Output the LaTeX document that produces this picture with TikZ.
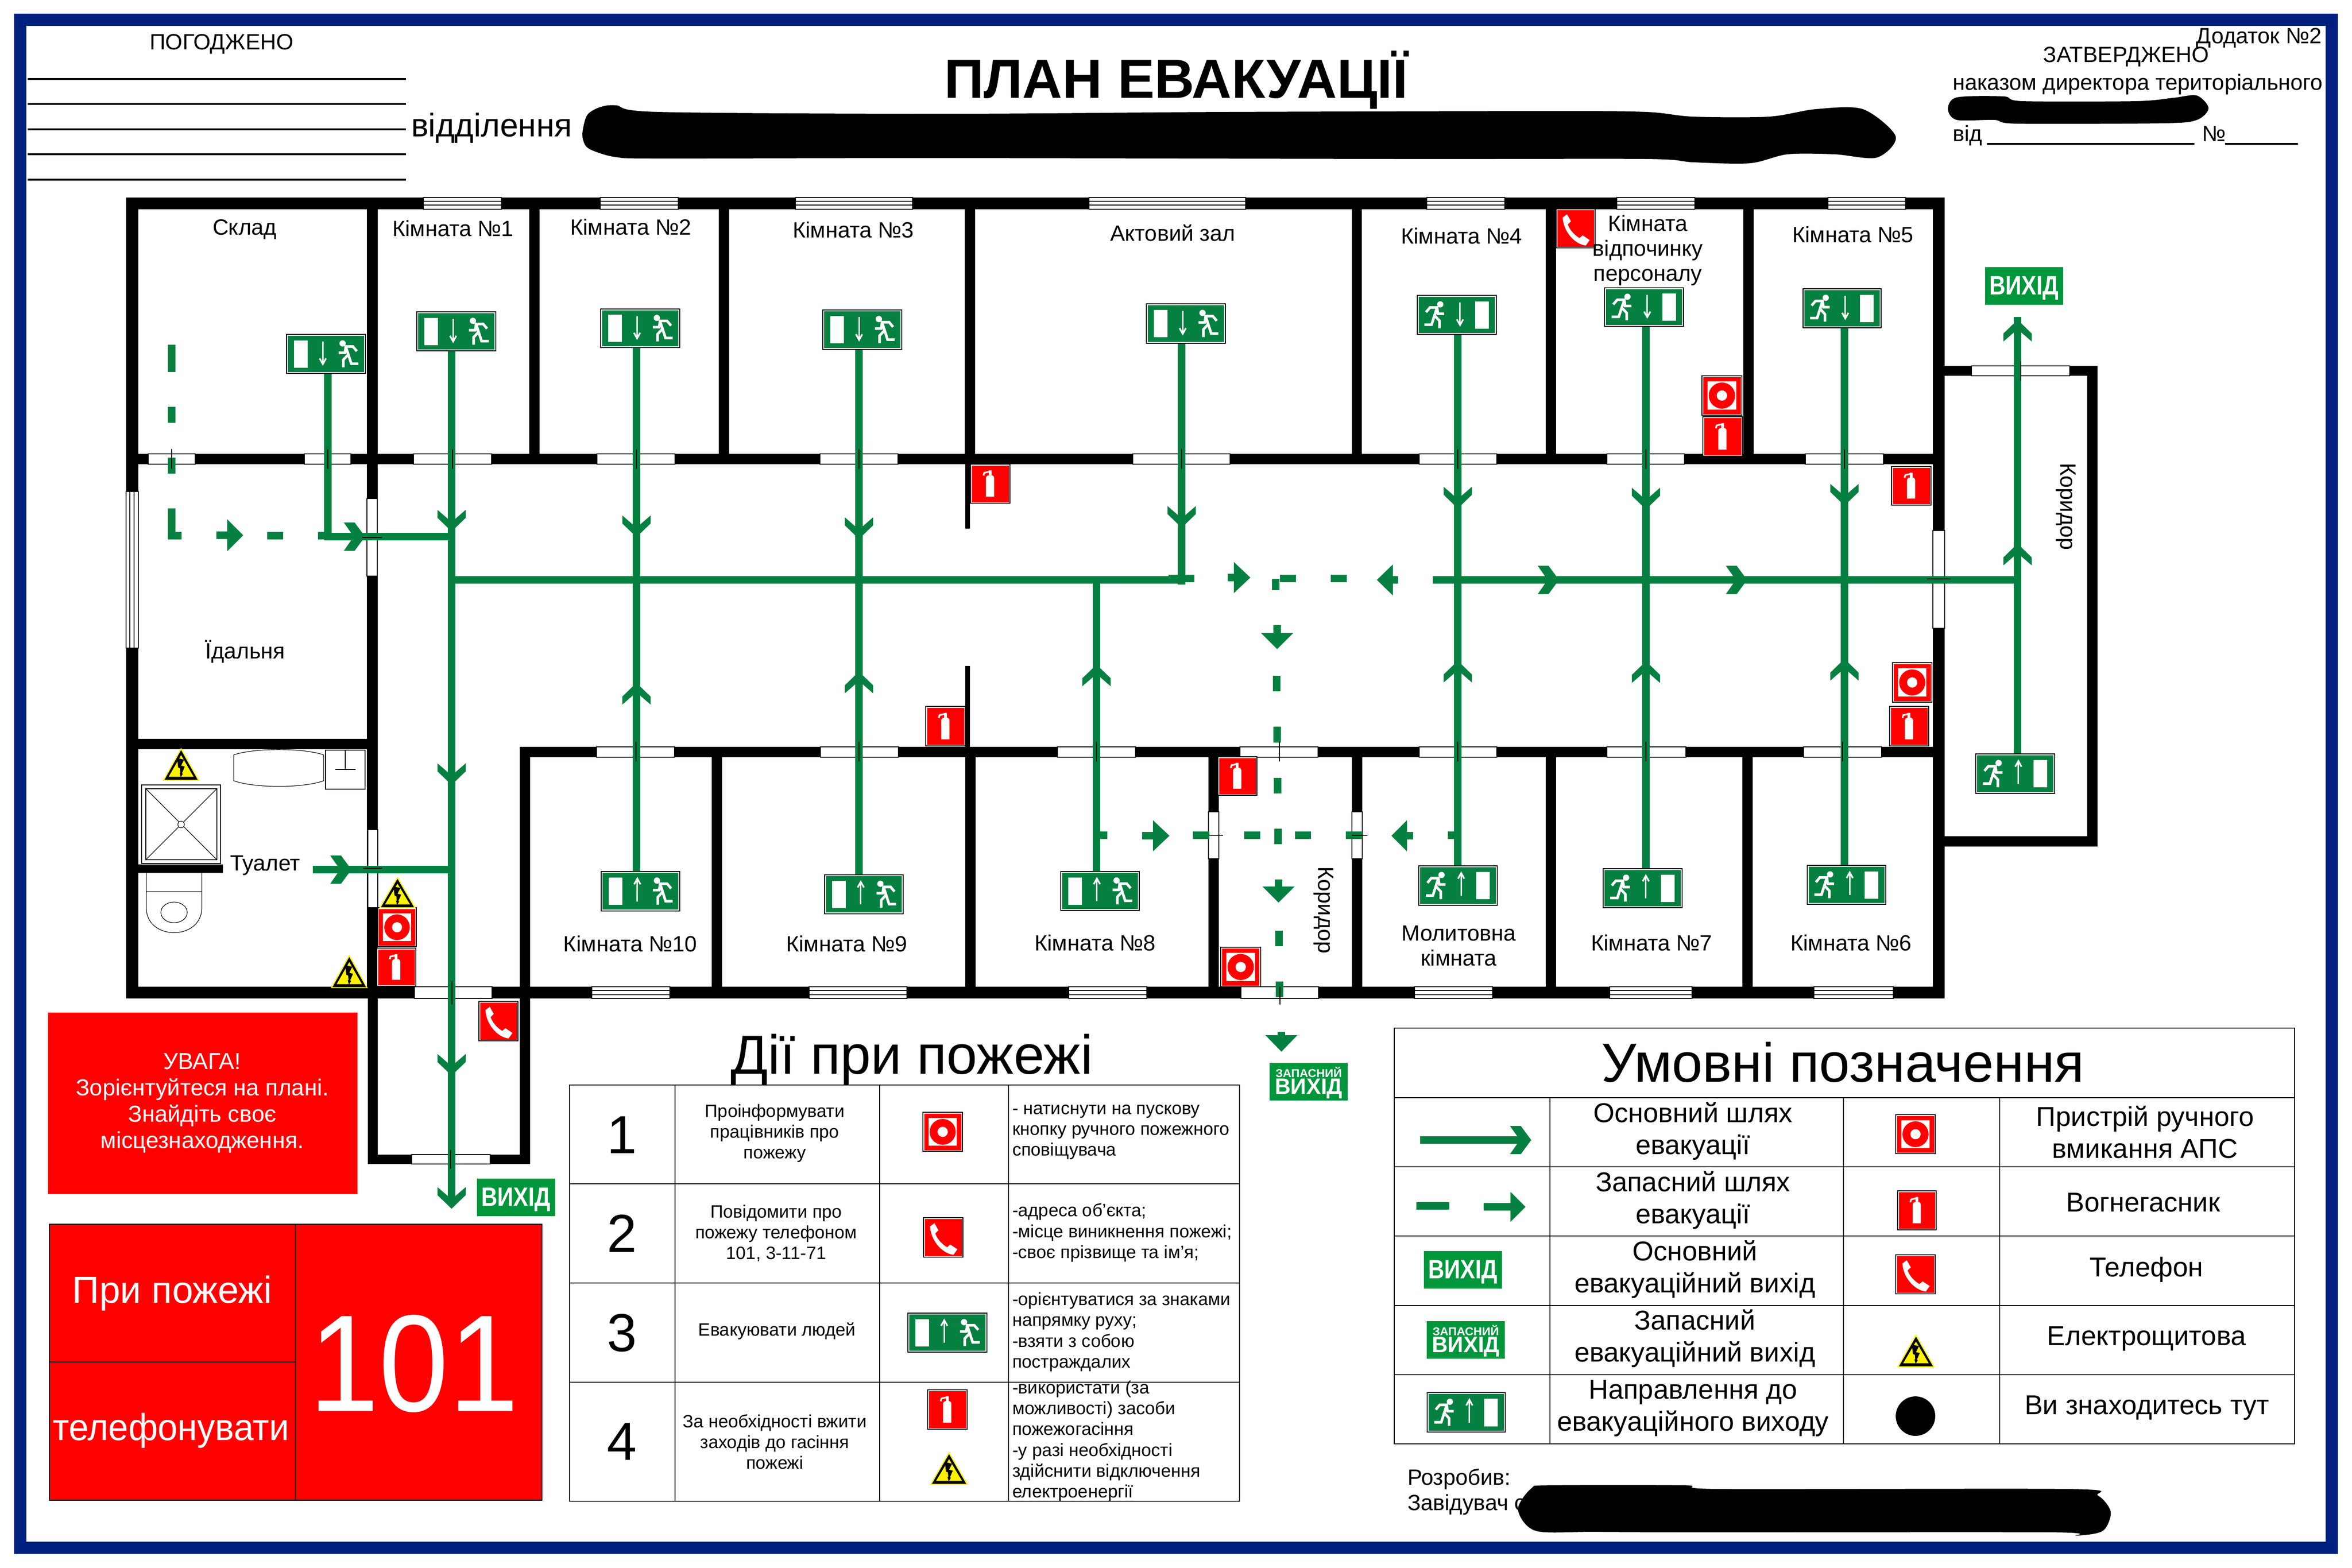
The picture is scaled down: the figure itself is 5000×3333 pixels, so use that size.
\documentclass[tikz,border=0pt]{standalone}
\usepackage{fontspec}
\setmainfont{Liberation Sans}
\definecolor{evacgreen}{HTML}{058040}
\definecolor{exitgreen}{HTML}{00963C}
\definecolor{framblue}{HTML}{00207F}

% signs are drawn in a 100x100 box, swap the x values to mirror them
\newcommand{\signext}[4]{\begin{scope}[shift={(#1,#2)},xscale={(#3-#1)/100},yscale={(#4-#2)/100}]
    \filldraw[signframe] (0,0) rectangle (100,100);
    \fill[red] (3,3) rectangle (97,97);
    \fill[white] (39,83) -- (39,36) .. controls (39,30) and (44,28) .. (50,28) .. controls (56,28) and (60,30) .. (60,36) -- (60,83) -- cycle;
    \fill[white] (46,16) rectangle (53,28);
    \draw[white,line width=0.35pt] (33,29) -- (35,22) -- (52,18);
\end{scope}}
\newcommand{\signalarm}[4]{\begin{scope}[shift={(#1,#2)},xscale={(#3-#1)/100},yscale={(#4-#2)/100}]
    \filldraw[signframe] (0,0) rectangle (100,100);
    \fill[red] (3,3) rectangle (97,97);
    \fill[white] (14,14) rectangle (86,86);
    \fill[red] (50,50) circle (33);
    \fill[white] (50,50) circle (13);
\end{scope}}
\newcommand{\signphone}[4]{\begin{scope}[shift={(#1,#2)},xscale={(#3-#1)/100},yscale={(#4-#2)/100}]
    \filldraw[signframe] (0,0) rectangle (100,100);
    \fill[red] (3,3) rectangle (97,97);
    \fill[white] (17,22) -- (28,14) -- (38,32) -- (30,40) .. controls (35,55) and (48,68) .. (60,75) -- (68,68) -- (86,80) -- (76,94) .. controls (45,90) and (18,55) .. cycle;
\end{scope}}
\newcommand{\signwarn}[4]{\begin{scope}[shift={(#1,#2)},xscale={(#3-#1)/100},yscale={(#4-#2)/100}]
    \fill[yellow] (50,0) -- (100,100) -- (0,100) -- cycle;
    \fill[black] (50,7) -- (95,97) -- (5,97) -- cycle;
    \fill[yellow] (50,22) -- (84,88) -- (16,88) -- cycle;
    \fill[black] (39,31) -- (58,36) -- (50,54) -- (60,57) -- (52,78) -- (55,78) -- (49,90) -- (46,76) -- (48,76) -- (47,62) -- (42,60) -- cycle;
\end{scope}}
\newcommand{\signexit}[6]{\begin{scope}[shift={(#1,#2)},xscale={(#3-#1)/100},yscale={(#4-#2)/100}]
    \filldraw[signframe] (0,0) rectangle (100,100);
    \fill[evacgreen] (2,4) rectangle (98,96);
    \fill[white] (9.5,15) rectangle (27,85);
    \pgfmathsetmacro{\headback}{#6+(#5-#6)*0.25}
    \draw[white,line width=0.3pt] (46,#5) -- (46,#6);
    \draw[white,line width=0.35pt] (42,\headback) -- (46,#6) -- (50,\headback);
    \fill[white] (71,23) circle [x radius=4,y radius=8];
    \draw[white,line width=0.55pt] (66,47) -- (74,47) -- (75,31) -- (84,31) -- (89,43);
    \draw[white,line width=0.55pt] (75,31) -- (79,56) -- (82,75) -- (91,75);
    \draw[white,line width=0.55pt] (78,52) -- (72,65) -- (72,84);
\end{scope}}
\newcommand{\signvyhid}[3]{\fill[exitgreen] ({#2-83},{#3-40}) rectangle ({#2+83},{#3+40});
    \node[inner sep=0pt,white] (#1) at (#2,#3+5) {\resizebox*{14.7pt}{5pt}{\bfseries ВИХІД}};}
\newcommand{\signzap}[3]{\fill[exitgreen] ({#2-83},{#3-40}) rectangle ({#2+83},{#3+40});
    \node[inner sep=0pt,white] (#1a) at (#2,#3-20) {\resizebox*{14.1pt}{2.2pt}{\bfseries ЗАПАСНИЙ}};
    \node[inner sep=0pt,white] (#1b) at (#2,#3+15) {\resizebox*{14.4pt}{4.2pt}{\bfseries ВИХІД}};}
% open heads on the main routes, #3 is 1 or -1
\newcommand{\chevv}[3]{\begin{scope}[shift={(#1,#2)},yscale=#3]
    \fill[evacgreen] (0,0) -- (30,-29) -- (30,-46) -- (0,-20) -- (-30,-46) -- (-30,-29) -- cycle;
\end{scope}}
\newcommand{\chevh}[3]{\begin{scope}[shift={(#1,#2)},xscale=#3]
    \fill[evacgreen] (0,0) -- (-22,-30) -- (-45,-30) -- (-24,0) -- (-45,30) -- (-22,30) -- cycle;
\end{scope}}
% solid heads on the spare routes: x, y, angle, stub, tip, half height
\newcommand{\triarr}[6]{\begin{scope}[shift={(#1,#2)},rotate=#3]
    \fill[evacgreen] (-#4,-8) rectangle (0,8);
    \fill[evacgreen] (0,-#6) -- (#5,0) -- (0,#6) -- cycle;
\end{scope}}

\begin{document}
\begin{tikzpicture}[x=0.1pt,y=-0.1pt]
    \tikzstyle{signframe}=[draw=black,fill=white,line width=0.15pt]
    \tikzstyle{wall}=[fill=black]
    \tikzstyle{door}=[draw=black,fill=white,line width=0.12pt]
    \tikzstyle{tick}=[draw=black,line width=0.12pt]
    \tikzstyle{evac}=[draw=evacgreen,line width=1.6pt]
    \tikzstyle{hline}=[draw=black,line width=0.4pt]
    \tikzstyle{tabline}=[draw=black,line width=0.18pt]
    \tikzstyle{room}=[inner sep=0pt,align=center,font=\fontsize{4.7}{5.3}\selectfont]
    \tikzstyle{cell}=[inner sep=0pt,align=center,font=\fontsize{3.8}{4.4}\selectfont]
    \tikzstyle{note}=[inner sep=0pt,align=left,anchor=west,font=\fontsize{3.8}{4.43}\selectfont]
    \tikzstyle{legend}=[inner sep=0pt,align=center,font=\fontsize{5.8}{6.8}\selectfont]

    \useasboundingbox (0,0) rectangle (5000,3333);
    \fill[white] (0,0) rectangle (5000,3333);
    \draw[draw=framblue,line width=2.6pt] (43,42) rectangle (4957,3291);

    % walls
    \foreach \xa/\ya/\xb/\yb in {268/420/4134/445, 268/420/294/2123, 268/2098/4134/2123, 4109/420/4134/2123,
        294/965/4109/987, 780/420/803/2123, 1125/445/1147/965, 1528/445/1550/965, 2051/445/2073/965,
        2874/445/2895/965, 3286/445/3308/965, 3706/445/3728/965, 2052/987/2062/1124, 2052/1416/2062/1588,
        294/1571/803/1593, 294/1838/474/1856, 1105/1588/4109/1610, 1105/1588/1127/2123, 1513/1610/1535/2098,
        2052/1610/2074/2098, 2569/1610/2591/2098, 2874/1610/2896/2098, 3286/1610/3308/2098, 3704/1610/3726/2098,
        4134/778/4459/799, 4437/778/4459/1800, 4134/1778/4459/1800, 782/2123/803/2475, 1105/2123/1127/2475,
        782/2455/1127/2475}
        \fill[wall] (\xa,\ya) rectangle (\xb,\yb);

    % doors
    \foreach \xa/\xb in {315/415, 647/746, 879/1045, 1269/1435, 1743/1909, 2408/2615, 3017/3182, 3416/3581, 3838/4004}
        \draw[door] (\xa,965) rectangle (\xb,987);
    \foreach \xa/\xb in {1268/1434, 1744/1910, 2248/2414, 2636/2802, 3017/3182, 3416/3584, 3834/4000}
        \draw[door] (\xa,1588) rectangle (\xb,1610);
    \foreach \xa/\ya/\xb/\yb in {881/2098/1046/2123, 875/2455/1042/2475, 2638/2098/2803/2123, 4191/778/4400/799,
        780/1060/802/1225, 782/1764/803/1930, 2569/1726/2591/1826, 2874/1726/2896/1826, 4109/1128/4134/1336}
        \draw[door] (\xa,\ya) rectangle (\xb,\yb);

    % windows
    \foreach \xa/\xb in {900/1066, 1276/1442, 1691/1940, 2315/2648, 3033/3199, 3437/3603, 3886/4051} {
        \draw[door] (\xa,420) rectangle (\xb,445);
        \draw[tick] (\xa,428) -- (\xb,428) (\xa,436) -- (\xb,436);
    }
    \foreach \xa/\xb in {1258/1424, 1720/1928, 2272/2438, 3007/3173, 3422/3597, 3856/4025} {
        \draw[door] (\xa,2098) rectangle (\xb,2123);
        \draw[tick] (\xa,2106) -- (\xb,2106) (\xa,2115) -- (\xb,2115);
    }
    \draw[door] (268,1045) rectangle (294,1378);
    \draw[tick] (276,1045) -- (276,1378) (285,1045) -- (285,1378);

    % toilet fittings
    \draw[tick] (301,1669) rectangle (469,1836) (310,1677) rectangle (461,1828);
    \draw[tick] (310,1677) -- (461,1828) (461,1677) -- (310,1828);
    \filldraw[tick,fill=white] (385,1753) circle (7);
    \draw[tick] (497,1605) .. controls (540,1590) and (645,1590) .. (688,1605) -- (688,1660)
        .. controls (645,1676) and (540,1676) .. (497,1660) -- cycle;
    \draw[tick] (692,1595) rectangle (776,1678) (734,1595) -- (734,1636) (713,1636) -- (756,1636);
    \draw[tick] (311,1856) -- (311,1930) .. controls (311,1965) and (340,1983) .. (370,1983)
        .. controls (400,1983) and (429,1965) .. (429,1930) -- (429,1856) (311,1896) -- (429,1896);
    \draw[tick] (370,1940) ellipse (28 and 22);

    % main routes
    \draw[evac] (960,746) -- (960,2550);
    \draw[evac] (697,794) -- (697,1141) -- (960,1141);
    \draw[evac] (960,1233) -- (2512,1233);
    \draw[evac] (3046,1233) -- (4289,1233);
    \draw[evac] (4289,1603) -- (4289,674);
    \draw[evac] (665,1849) -- (960,1849);
    \draw[evac] (1353,739) -- (1353,1853);
    \draw[evac] (1826,743) -- (1826,1860);
    \draw[evac] (2512,730) -- (2512,1243);
    \draw[evac] (2484,1230) -- (2539,1230);
    \draw[evac] (2331,1233) -- (2331,1853);
    \draw[evac] (3099,711) -- (3099,1841);
    \draw[evac] (3499,694) -- (3499,1847);
    \draw[evac] (3921,697) -- (3921,1840);
    \foreach \x/\y in {960/1130, 960/1669, 960/2287, 960/2570, 1353/1142, 1826/1146, 2512/1122, 3099/1081, 3499/1083, 3921/1075}
        \chevv{\x}{\y}{1};
    \foreach \x/\y in {1353/1452, 1826/1428, 2331/1413, 3099/1405, 3499/1406, 3921/1401, 4289/1156, 4289/680}
        \chevv{\x}{\y}{-1};
    \foreach \x/\y in {776/1141, 747/1849, 3314/1233, 3714/1233}
        \chevh{\x}{\y}{1};

    % spare routes
    \draw[evac] (365,733) -- (365,791) (365,865) -- (365,899) (365,973) -- (365,1007);
    \draw[evac] (365,1081) -- (365,1139) -- (386,1139) (568,1139) -- (602,1139) (676,1139) -- (697,1139);
    \draw[evac] (2721,1230) -- (2755,1230) (2829,1230) -- (2863,1230) (2712,1231) -- (2712,1255);
    \draw[evac] (2714,1437) -- (2714,1470) (2715,1545) -- (2715,1579) (2716,1654) -- (2716,1687) (2717,1762) -- (2717,1795);
    \draw[evac] (2719,1979) -- (2719,2012) (2720,2087) -- (2720,2120);
    \draw[evac] (2338,1776) -- (2354,1776) (2536,1776) -- (2571,1776) (2645,1776) -- (2679,1776);
    \draw[evac] (2753,1776) -- (2787,1776) (2861,1776) -- (2896,1776) (3078,1776) -- (3094,1776);
    \triarr{483}{1138}{0}{23}{34}{34}
    \triarr{2623}{1228}{0}{13}{35}{33}
    \triarr{2961}{1233}{180}{11}{34}{33}
    \triarr{2451}{1777}{0}{23}{35}{33}
    \triarr{2991}{1777}{180}{13}{33}{33}
    \triarr{2715}{1346}{-90}{17}{34}{34}
    \triarr{2718}{1885}{-90}{15}{34}{34}
    \triarr{2724}{2201}{-90}{7}{35}{34}

    % ticks across the openings
    \foreach \x in {365, 697, 962, 1353, 1826, 2512, 3099, 3499, 3921}
        \draw[tick] (\x,955) -- (\x,997);
    \foreach \x in {1352, 1826, 2331, 2720, 3099, 3499, 3917}
        \draw[tick] (\x,1577) -- (\x,1619);
    \draw[tick] (961,2086) -- (961,2136) (958,2445) -- (958,2485) (2721,2098) -- (2721,2136) (4296,768) -- (4296,810);
    \draw[tick] (770,1143) -- (812,1143) (772,1846) -- (812,1846) (2571,1776) -- (2600,1776) (2874,1776) -- (2907,1776) (4096,1231) -- (4147,1231);

    % signs on the plan
    \signexit{609}{711}{777}{794}{18}{76}
    \signexit{886}{663}{1054}{746}{18}{76}
    \signexit{1277}{657}{1445}{739}{18}{76}
    \signexit{1749}{659}{1917}{743}{18}{76}
    \signexit{2437}{646}{2605}{730}{18}{76}
    \signexit{3181}{628}{3013}{711}{18}{76}
    \signexit{3579}{612}{3411}{694}{18}{76}
    \signexit{3999}{614}{3833}{697}{18}{76}
    \signexit{1278}{1853}{1445}{1937}{76}{18}
    \signexit{1753}{1860}{1920}{1943}{76}{18}
    \signexit{2255}{1853}{2422}{1936}{76}{18}
    \signexit{3183}{1841}{3016}{1925}{76}{18}
    \signexit{3576}{1847}{3408}{1930}{76}{18}
    \signexit{4009}{1840}{3842}{1923}{76}{18}
    \signexit{4368}{1603}{4200}{1687}{76}{18}
    \signext{2063}{987}{2147}{1070}
    \signext{1968}{1502}{2052}{1586}
    \signext{2589}{1609}{2672}{1691}
    \signext{3620}{886}{3704}{970}
    \signext{4021}{992}{4105}{1074}
    \signext{4017}{1502}{4100}{1586}
    \signext{801}{2016}{884}{2097}
    \signalarm{3618}{799}{3703}{883}
    \signalarm{4023}{1409}{4107}{1493}
    \signalarm{2595}{2014}{2680}{2098}
    \signalarm{803}{1930}{885}{2013}
    \signphone{3308}{444}{3391}{527}
    \signphone{1018}{2129}{1101}{2213}
    \signwarn{346}{1590}{424}{1660}
    \signwarn{806}{1864}{884}{1931}
    \signwarn{703}{2030}{782}{2101}
    \signvyhid{exittop}{4303}{608}
    \signvyhid{exitbottom}{1097}{2546}
    \signzap{sparebottom}{2782}{2300}

    % room names
    \node[room] (sklad) at (520,488) {Склад};
    \node[room] (room1) at (963,486) {Кімната №1};
    \node[room] (room2) at (1341,483) {Кімната №2};
    \node[room] (room3) at (1814,489) {Кімната №3};
    \node[room] (hall) at (2493,495) {Актовий зал};
    \node[room] (room4) at (3107,502) {Кімната №4};
    \node[room] (restroom) at (3503,532) {Кімната\\відпочинку\\персоналу};
    \node[room] (room5) at (3939,499) {Кімната №5};
    \node[room] (canteen) at (521,1385) {Їдальня};
    \node[room] (toilet) at (564,1840) {Туалет};
    \node[room] (room10) at (1340,2007) {Кімната №10};
    \node[room] (room9) at (1800,2007) {Кімната №9};
    \node[room] (room8) at (2328,2005) {Кімната №8};
    \node[room] (prayer) at (3101,2011) {Молитовна\\кімната};
    \node[room] (room7) at (3511,2005) {Кімната №7};
    \node[room] (room6) at (3935,2005) {Кімната №6};
    \node[room,rotate=-90] (corridorA) at (2814,1935) {Коридор};
    \node[room,rotate=-90] (corridorB) at (4392,1077) {Коридор};

    % header
    \node[room] (agreed) at (471,94) {ПОГОДЖЕНО};
    \foreach \y in {168, 221, 275, 328, 382}
        \draw[hline] (59,\y) -- (863,\y);
    \node[inner sep=0pt,anchor=base west,font=\fontsize{6.95}{8}\selectfont] (dept) at (872,290) {відділення};
    \node[inner sep=0pt,font=\bfseries\fontsize{11.75}{14}\selectfont] (title) at (2500,170) {ПЛАН ЕВАКУАЦІЇ};
    \fill plot[smooth cycle] coordinates {(1238,285) (1248,245) (1275,228) (1310,224) (1400,238) (2000,242) (2600,238) (3300,236) (3500,238) (3600,248) (3760,248) (3860,232) (3960,232) (4030,290) (3990,335) (3900,328) (3800,328) (3720,347) (3600,345) (3500,338) (3000,338) (2000,336) (1400,337) (1310,334) (1265,322) (1245,310)};
    \node[room,anchor=east] (annex) at (4938,81) {Додаток №2};
    \node[room] (approved) at (4520,121) {ЗАТВЕРДЖЕНО};
    \node[room,anchor=west] (order) at (4149,179) {наказом директора територіального};
    \fill plot[smooth cycle] coordinates {(4141,232) (4160,207) (4260,205) (4300,215) (4540,215) (4620,208) (4670,203) (4695,230) (4670,255) (4600,262) (4290,263) (4240,255) (4160,255)};
    \node[room,anchor=base west] (from) at (4149,300) {від};
    \node[room,anchor=base west] (number) at (4679,300) {№};
    \draw[hline] (4224,306) -- (4665,306) (4730,306) -- (4885,306);

    % attention box
    \fill[red] (102,2153) rectangle (760,2539);
    \node[room,white,font=\fontsize{4.9}{5.6}\selectfont] (attention) at (430,2345) {УВАГА!\\Зорієнтуйтеся на плані.\\Знайдіть своє\\місцезнаходження.};

    % phone box
    \filldraw[tabline,fill=red] (105,2603) rectangle (1152,3190);
    \draw[tabline] (628,2603) -- (628,3190) (105,2896) -- (628,2896);
    \node[inner sep=0pt,white,anchor=base,font=\fontsize{8}{9}\selectfont] (firecall) at (366,2770) {При пожежі};
    \node[inner sep=0pt,white,anchor=base,font=\fontsize{8}{9}\selectfont] (ring) at (364,3062) {\scalebox{0.95}[1]{телефонувати}};
    \node[inner sep=0pt,white,anchor=base,font=\fontsize{29.3}{30}\selectfont] (firenumber) at (880,3000) {\scalebox{0.91}[1]{101}};

    % actions table
    \node[inner sep=0pt,anchor=base,font=\fontsize{11.7}{12}\selectfont] (actions) at (1938,2283) {Дії при пожежі};
    \draw[tabline] (1211,2307) rectangle (2635,3192);
    \foreach \x in {1435, 1870, 2144}
        \draw[tabline] (\x,2307) -- (\x,3192);
    \foreach \y in {2517, 2728, 2939}
        \draw[tabline] (1211,\y) -- (2635,\y);
    \foreach \n/\y in {1/2413, 2/2623, 3/2834, 4/3065}
        \node[inner sep=0pt,font=\fontsize{11.4}{12}\selectfont] (num\n) at (1322,\y) {\n};
    \node[cell] (act1) at (1647,2410) {Проінформувати\\працівників про\\пожежу};
    \node[cell] (act2) at (1650,2622) {Повідомити про\\пожежу телефоном\\101, 3-11-71};
    \node[cell] (act3) at (1652,2830) {Евакуювати людей};
    \node[cell] (act4) at (1647,3066) {За необхідності вжити\\заходів до гасіння\\пожежі};
    \signalarm{1962}{2365}{2046}{2448}
    \signphone{1963}{2589}{2047}{2673}
    \signexit{1930}{2792}{2098}{2875}{76}{18}
    \signext{1972}{2955}{2056}{3039}
    \signwarn{1977}{3087}{2058}{3157}
    \node[note] (info1) at (2150,2407) {- натиснути на пускову\\кнопку ручного пожежного\\сповіщувача};
    \node[note] (info2) at (2150,2621) {-адреса об'єкта;\\-місце виникнення пожежі;\\-своє прізвище та ім'я;};
    \node[note] (info3) at (2150,2832) {-орієнтуватися за знаками\\напрямку руху;\\-взяти з собою\\постраждалих};
    \node[note] (info4) at (2150,3064) {-використати (за\\можливості) засоби\\пожежогасіння\\-у разі необхідності\\здійснити відключення\\електроенергії};

    % legend table
    \draw[tabline] (2964,2186) rectangle (4878,3070);
    \draw[tabline] (2964,2334) -- (4878,2334);
    \foreach \y in {2481, 2628, 2776, 2923}
        \draw[tabline] (2964,\y) -- (4878,\y);
    \foreach \x in {3295, 3919, 4251}
        \draw[tabline] (\x,2334) -- (\x,3070);
    \node[inner sep=0pt,anchor=base,font=\fontsize{11.7}{12}\selectfont] (legendtitle) at (3918,2300) {Умовні позначення};
    \draw[evac] (3019,2424) -- (3245,2424);
    \chevh{3255}{2424}{1}
    \draw[evac] (3011,2564) -- (3081,2564);
    \triarr{3211}{2566}{0}{57}{32}{32}
    \signvyhid{legendexit}{3110}{2700}
    \signzap{legendspare}{3116}{2849}
    \signexit{3200}{2961}{3034}{3045}{76}{18}
    \signalarm{4030}{2370}{4114}{2453}
    \signext{4034}{2532}{4116}{2615}
    \signphone{4030}{2668}{4114}{2751}
    \signwarn{4033}{2837}{4113}{2907}
    \fill (4072,3011) circle (42);
    \node[legend] (leg1) at (3599,2405) {Основний шлях\\евакуації};
    \node[legend] (leg2) at (3599,2552) {Запасний шлях\\евакуації};
    \node[legend] (leg3) at (3603,2699) {Основний\\евакуаційний вихід};
    \node[legend] (leg4) at (3603,2846) {Запасний\\евакуаційний вихід};
    \node[legend] (leg5) at (3599,2994) {Направлення до\\евакуаційного виходу};
    \node[legend] (leg6) at (4560,2407) {Пристрій ручного\\вмикання АПС};
    \node[legend] (leg7) at (4556,2557) {Вогнегасник};
    \node[legend] (leg8) at (4563,2699) {Телефон};
    \node[legend] (leg9) at (4563,2846) {Електрощитова};
    \node[legend] (leg10) at (4564,2993) {Ви знаходитесь тут};

    % footer
    \node[room,anchor=west] (made) at (2990,3145) {Розробив:};
    \node[room,anchor=west] (head) at (2990,3199) {Завідувач с};
    \fill plot[smooth cycle] coordinates {(3227,3210) (3255,3165) (3295,3158) (3580,3158) (3660,3166) (4400,3166) (4460,3180) (4487,3215) (4470,3255) (4413,3265) (4360,3258) (3630,3258) (3390,3257) (3265,3255)};
\end{tikzpicture}
\end{document}
